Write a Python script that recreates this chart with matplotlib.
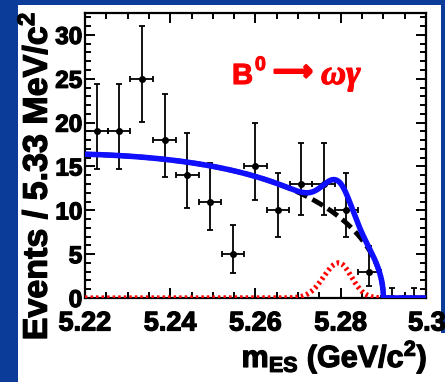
import numpy as np
import matplotlib
matplotlib.use("Agg")
import matplotlib.pyplot as plt
import matplotlib.transforms as mtransforms
import matplotlib.patheffects as pe
from matplotlib.patches import Rectangle
from matplotlib.ticker import MultipleLocator, FixedLocator

plt.rcParams['font.family'] = ['Liberation Sans', 'DejaVu Sans']
plt.rcParams['font.weight'] = 'bold'
plt.rcParams['mathtext.fontset'] = 'custom'
plt.rcParams['mathtext.rm'] = 'Liberation Sans:bold'
plt.rcParams['mathtext.it'] = 'Liberation Sans:bold'
plt.rcParams['mathtext.bf'] = 'Liberation Sans:bold'
plt.rcParams['mathtext.default'] = 'regular'

# m_ES data: 15 bins of 5.33 MeV/c^2 between 5.22 and 5.30 GeV/c^2
bin_centers = [5.2227, 5.2280, 5.2333, 5.2387, 5.2440, 5.2493, 5.2547, 5.2600,
               5.2653, 5.2707, 5.2760, 5.2813, 5.2867, 5.2920, 5.2973]
counts = [19, 19, 25, 18, 14, 11, 5, 15, 10, 13, 13, 10, 3, 0, 0]
err_low = [4.32, 4.32, 4.97, 4.20, 3.72, 3.26, 2.16, 3.82, 3.10, 3.57, 3.57,
           3.10, 1.63, 0.0, 0.0]
err_high = [5.44, 5.44, 6.06, 5.32, 4.83, 4.40, 3.38, 4.96, 4.26, 4.69, 4.69,
            4.26, 2.92, 1.15, 1.15]
bin_half_width = 0.00267

# fit projection: ARGUS background + signal peak
argus_endpoint = 5.29
argus_shape = -16.4
bkg_at_low_edge = 16.4
sig_peak = 4.0
sig_mean = 5.2795
sig_sigma_left = 0.0035
sig_sigma_right = 0.0030

x_tick_values = [5.22, 5.24, 5.26, 5.28, 5.30]
x_tick_labels = ['5.22', '5.24', '5.26', '5.28', '5.3']


def argus_shape_fn(m):
    z = np.clip(1.0 - (m / argus_endpoint) ** 2, 0.0, None)
    return m * np.sqrt(z) * np.exp(argus_shape * z)


def background(m):
    return bkg_at_low_edge * argus_shape_fn(m) / argus_shape_fn(5.22)


def signal(m):
    sig = np.where(m < sig_mean, sig_sigma_left, sig_sigma_right)
    return sig_peak * np.exp(-0.5 * ((m - sig_mean) / sig) ** 2)


W, H = 445, 382
fig = plt.figure(figsize=(W / 100, H / 100), dpi=100)
fig.patch.set_facecolor('#0b3c9a')
fig.add_artist(Rectangle((18 / W, 0), (441 - 18) / W, (H - 5) / H,
                         transform=fig.transFigure, facecolor='white',
                         edgecolor='none', zorder=0))
fig.add_artist(Rectangle((440 / W, 0), 5 / W, (H - 333) / H,
                         transform=fig.transFigure, facecolor='white',
                         edgecolor='none', zorder=0))

ax = fig.add_axes([85 / W, (H - 298) / H, (426 - 85) / W, (298 - 13) / H])
ax.set_facecolor('white')

m = np.linspace(5.22, 5.30, 1601)
bkg = background(m)
sig = signal(m)
total = bkg + sig

ax.errorbar(bin_centers, counts, yerr=[err_low, err_high], xerr=bin_half_width,
            fmt='o', ms=4, color='black', ecolor='black', elinewidth=1.3,
            capsize=2.5, capthick=1.3, zorder=3)
ax.plot(m, sig, color='#ff0000', lw=3.8, linestyle=(0, (0.45, 0.6)),
        dash_capstyle='butt', zorder=3.6)
ax.plot(m, bkg, color='black', lw=3.5, linestyle=(0, (2.5, 1.2)),
        dash_capstyle='butt', zorder=3.8)
ax.plot(m, total, color='#1010ff', lw=4.0, solid_joinstyle='round', zorder=4)

ax.set_xlim(5.22, 5.30)
ax.set_ylim(0, 32.5)
ax.xaxis.set_major_locator(FixedLocator(x_tick_values))
ax.set_xticklabels(x_tick_labels)
ax.xaxis.set_minor_locator(MultipleLocator(0.005))
ax.yaxis.set_major_locator(MultipleLocator(5))
ax.yaxis.set_minor_locator(MultipleLocator(1))
ax.tick_params(which='both', direction='in', top=True, right=True, width=1.4,
               color='black')
ax.tick_params(which='major', length=7.5)
ax.tick_params(which='minor', length=4)
ax.tick_params(axis='x', labelsize=19.5, pad=9)
ax.tick_params(axis='y', labelsize=17.5, pad=2)
for s in ax.spines.values():
    s.set_linewidth(1.6)

heavy = [pe.withStroke(linewidth=0.9, foreground='black')]
for lab in ax.get_xticklabels() + ax.get_yticklabels():
    lab.set_path_effects(heavy)

last = ax.get_xticklabels()[-1]
last.set_transform(last.get_transform() +
                   mtransforms.ScaledTranslation(1 / 100, 0, fig.dpi_scale_trans))

fig.text(36 / W, 1 - 12 / H, 'Events / 5.33 MeV/c$^{2}$', rotation=90,
         ha='center', va='top', fontsize=24.5, fontweight='bold',
         path_effects=heavy)
fig.text(427 / W, 1 - 367 / H, r'm$_{ES}$ (GeV/c$^{2}$)', ha='right',
         va='baseline', fontsize=22, fontweight='bold', path_effects=heavy)

red = '#ff0000'
red_heavy = [pe.withStroke(linewidth=0.8, foreground=red)]
fig.text(232 / W, 1 - 84 / H, 'B', color=red, fontsize=21,
         fontweight='bold', ha='left', va='baseline', path_effects=red_heavy)
fig.text(255 / W, 1 - 70 / H, '0', color=red, fontsize=14,
         fontweight='bold', ha='left', va='baseline', path_effects=red_heavy)
fig.text(273 / W, 1 - 80 / H, '\u27f6', color=red, fontsize=20,
         fontweight='bold', family='DejaVu Sans', ha='left', va='baseline',
         path_effects=[pe.withStroke(linewidth=1.6, foreground=red)])
fig.text(321 / W, 1 - 84 / H, '\u03c9\u03b3', color=red, fontsize=25,
         fontweight='bold', style='italic', family='Liberation Serif',
         ha='left', va='baseline', path_effects=red_heavy)

fig.savefig('out.png', dpi=100, facecolor=fig.get_facecolor())
